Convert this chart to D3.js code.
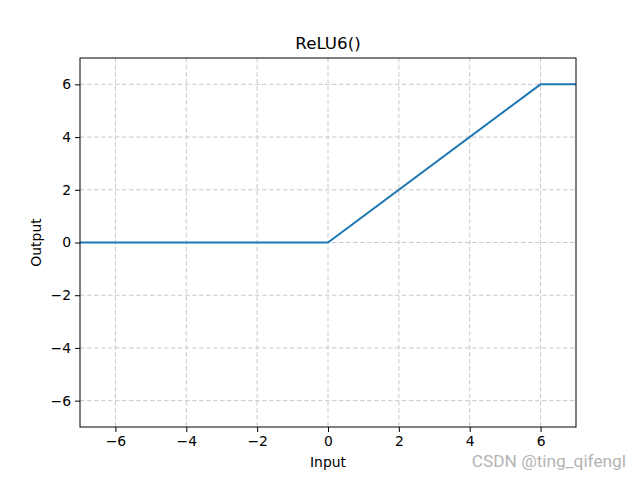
<!DOCTYPE html>
<html><head><meta charset="utf-8">
<script src="https://cdn.jsdelivr.net/npm/d3@7"></script>
<style>body{margin:0;background:#fff}svg{display:block}text{font-family:"DejaVu Sans",sans-serif}</style>
</head><body>
<script>
const inputX = [-7, 0, 6, 7];
const outputY = [0, 0, 6, 6];
const xTicks = [-6, -4, -2, 0, 2, 4, 6];
const yTicks = [-6, -4, -2, 0, 2, 4, 6];
const titleText = "ReLU6()";
const xLabel = "Input", yLabel = "Output";
const watermark = "CSDN @ting_qifengl";

const W = 640, H = 480;
const m = {l: 80, r: 576, t: 58, b: 427};
const svg = d3.select("body").append("svg").attr("width", W).attr("height", H);
const x = d3.scaleLinear().domain([-7, 7]).range([m.l, m.r]);
const y = d3.scaleLinear().domain([-7, 7]).range([m.b, m.t]);
const fmt = d => (d < 0 ? "\u2212" + Math.abs(d) : "" + d);

// grid
svg.append("g").selectAll("line").data(xTicks).join("line")
  .attr("x1", d => x(d)).attr("x2", d => x(d)).attr("y1", m.t).attr("y2", m.b)
  .attr("stroke", "#c8c8c8").attr("stroke-width", 1).attr("stroke-dasharray", "4.5,2.5");
svg.append("g").selectAll("line").data(yTicks).join("line")
  .attr("y1", d => y(d)).attr("y2", d => y(d)).attr("x1", m.l).attr("x2", m.r)
  .attr("stroke", "#c8c8c8").attr("stroke-width", 1).attr("stroke-dasharray", "4.5,2.5");

// line
const data = inputX.map((v, i) => [v, outputY[i]]);
svg.append("path").datum(data)
  .attr("d", d3.line().x(d => x(d[0])).y(d => y(d[1])))
  .attr("fill", "none").attr("stroke", "#1f77b4").attr("stroke-width", 2);

// axes
const xa = svg.append("g").attr("transform", `translate(0,${m.b})`)
  .call(d3.axisBottom(x).tickValues(xTicks).tickFormat(fmt).tickSize(5).tickPadding(4));
const ya = svg.append("g").attr("transform", `translate(${m.l},0)`)
  .call(d3.axisLeft(y).tickValues(yTicks).tickFormat(fmt).tickSize(5).tickPadding(4));
[xa, ya].forEach(g => {
  g.select(".domain").remove();
  g.selectAll("text").attr("font-size", 13.9).attr("fill", "#000").attr("font-family", "DejaVu Sans");
  g.selectAll("line").attr("stroke", "#000").attr("stroke-width", 1);
});
svg.append("rect").attr("x", m.l).attr("y", m.t).attr("width", m.r - m.l).attr("height", m.b - m.t)
  .attr("fill", "none").attr("stroke", "#000").attr("stroke-width", 1);

svg.append("text").attr("x", (m.l + m.r) / 2).attr("y", 49).attr("text-anchor", "middle")
  .attr("font-size", 16.7).text(titleText);
svg.append("text").attr("x", (m.l + m.r) / 2).attr("y", 467).attr("text-anchor", "middle")
  .attr("font-size", 13.9).text(xLabel);
svg.append("text").attr("transform", `translate(41,${(m.t + m.b) / 2}) rotate(-90)`).attr("text-anchor", "middle")
  .attr("font-size", 13.9).text(yLabel);
svg.append("text").attr("x", 626).attr("y", 467).attr("text-anchor", "end")
  .attr("font-size", 17.3).attr("fill", "#b4b4b4").style("font-family", "Roboto, 'Liberation Sans', sans-serif").text(watermark);
</script>
</body></html>
